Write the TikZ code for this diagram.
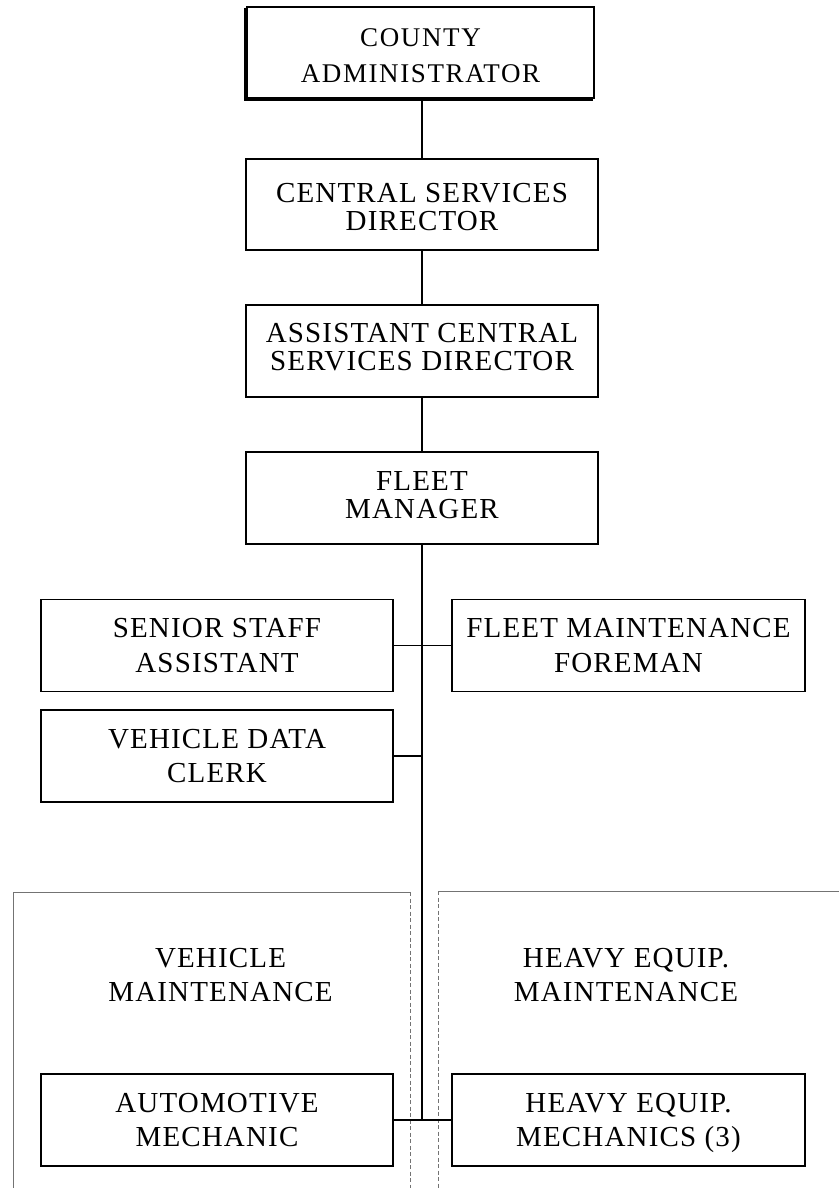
\documentclass[tikz,border=0pt]{standalone}
\usepackage{fontspec}
\setmainfont{Liberation Serif}[LetterSpace=4]
% invisible struts that nudge a two-line label down (height) or up (depth)
\newcommand{\lowerby}[1]{\rule{0pt}{#1}}
\newcommand{\raiseby}[1]{\rule[-#1]{0pt}{#1}}
\begin{document}
\begin{tikzpicture}[x=1pt,y=-1pt,
  orgbox/.style={draw, line width=1.5pt, inner sep=0pt, align=center,
    minimum width=352, minimum height=92,
    font=\fontsize{29}{34.5}\selectfont},
  tightlines/.style={font=\fontsize{29}{28}\selectfont},
  grouplabel/.style={inner sep=0pt, align=center,
    font=\fontsize{29}{34.5}\selectfont},
  link/.style={line width=1.5pt},
  groupline/.style={draw=black!55, line width=0.8pt},
  groupdash/.style={draw=black!55, line width=0.8pt, dash pattern=on 4pt off 2.5pt}]

\useasboundingbox (0,0) rectangle (839,1188);

% department groups at the bottom
\draw[groupline] (13,1188) -- (13,892) -- (410,892);
\draw[groupdash] (410,892) -- (410,1188);
\draw[groupline] (839,891) -- (438,891);
\draw[groupdash] (438,891) -- (438,1188);

% chain of command
\node[orgbox, minimum width=347, minimum height=91,
      font=\fontsize{27}{36}\selectfont\addfontfeature{LetterSpace=6}]
  (ca) at (420.5,52.5) {\lowerby{25pt}COUNTY\\ADMINISTRATOR};
\draw[line width=1.1pt]
  ([xshift=-1.3pt,yshift=-1.3pt]ca.north west) --
  ([xshift=-1.3pt,yshift=-1.3pt]ca.south west) --
  ([xshift=-1.3pt,yshift=-1.3pt]ca.south east);

\node[orgbox, tightlines, minimum height=91]
  (csd) at (422,204.5) {\lowerby{24pt}CENTRAL SERVICES\\DIRECTOR};
\node[orgbox, tightlines]
  (acsd) at (422,351) {ASSISTANT CENTRAL\\SERVICES DIRECTOR\raiseby{9pt}};
\node[orgbox, tightlines]
  (fm) at (422,498) {FLEET\\MANAGER\raiseby{6pt}};

% staff under the fleet manager
\node[orgbox] (ssa) at (217,645.5) {SENIOR STAFF\\ASSISTANT};
\node[orgbox, minimum width=353] (fmf) at (628.5,645.5) {FLEET MAINTENANCE\\FOREMAN};
\node[orgbox] (vdc) at (217,756) {VEHICLE DATA\\CLERK};

% group titles and mechanics
\node[grouplabel] (vmt) at (220.5,975) {VEHICLE\\MAINTENANCE};
\node[grouplabel] (hmt) at (626,975) {HEAVY EQUIP.\\MAINTENANCE};
\node[orgbox] (am) at (217,1120) {AUTOMOTIVE\\MECHANIC};
\node[orgbox, minimum width=353] (hem) at (628.5,1120) {HEAVY EQUIP.\\MECHANICS \smash{(3)}};

% connectors
\draw[link] (csd.north) -- (csd.north |- ca.south);
\draw[link] (csd.south) -- (acsd.north);
\draw[link] (acsd.south) -- (fm.north);
\draw[link] (fm.south) -- (fm.south |- am.east);
\draw[link] (ssa.east) -- (fmf.west);
\draw[link] (vdc.east) -- (vdc.east -| fm.south);
\draw[link] (am.east) -- (hem.west);
\end{tikzpicture}
\end{document}
